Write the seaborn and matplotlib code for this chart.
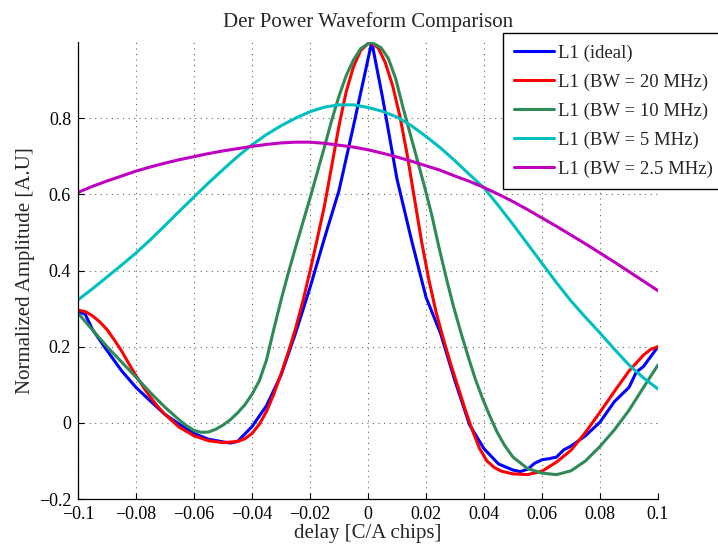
import matplotlib
matplotlib.use("Agg")
import matplotlib.pyplot as plt
import pandas as pd
import seaborn as sns
from matplotlib.ticker import FixedLocator, FixedFormatter

# ---- waveform data (delay in C/A chips, normalized amplitude) ----
delay_ideal = [-0.1, -0.0975, -0.095, -0.09, -0.085, -0.08, -0.075, -0.07, -0.065,
               -0.06, -0.055, -0.05, -0.0475, -0.045, -0.04, -0.035, -0.03, -0.025,
               -0.02, -0.015, -0.01, -0.005, 0.0013, 0.005, 0.01, 0.015, 0.02, 0.025,
               0.03, 0.035, 0.04, 0.045, 0.05, 0.0525, 0.055, 0.0575, 0.06, 0.0625,
               0.065, 0.0675, 0.07, 0.075, 0.08, 0.085, 0.09, 0.0925, 0.095, 0.1]
amp_ideal = [0.292, 0.285, 0.245, 0.190, 0.137, 0.093, 0.057, 0.022, -0.004,
             -0.028, -0.043, -0.050, -0.053, -0.049, -0.010, 0.045, 0.125, 0.235,
             0.355, 0.485, 0.610, 0.780, 1.0, 0.855, 0.640, 0.480, 0.330, 0.235,
             0.110, -0.005, -0.068, -0.108, -0.124, -0.128, -0.122, -0.106, -0.097, -0.094,
             -0.090, -0.071, -0.061, -0.034, 0.002, 0.056, 0.093, 0.133, 0.148, 0.200]

delay_bw20 = [-0.1, -0.0975, -0.095, -0.0925, -0.09, -0.0875, -0.085, -0.0825, -0.08,
              -0.0775, -0.075, -0.0725, -0.07, -0.065, -0.06, -0.055, -0.05, -0.045,
              -0.0425, -0.04, -0.0375, -0.035, -0.0325, -0.03, -0.0275, -0.025,
              -0.0225, -0.02, -0.0175, -0.015, -0.0125, -0.01, -0.0075, -0.005,
              -0.0025, 0.0006, 0.0035, 0.006, 0.0085, 0.011, 0.0135, 0.016, 0.0185,
              0.021, 0.0235, 0.026, 0.0285, 0.031, 0.0335, 0.036, 0.0385, 0.041,
              0.0435, 0.046, 0.05, 0.055, 0.06, 0.065, 0.07, 0.075, 0.08, 0.085,
              0.09, 0.095, 0.0975, 0.1]
amp_bw20 = [0.296, 0.292, 0.281, 0.265, 0.245, 0.218, 0.189, 0.156, 0.124,
            0.094, 0.067, 0.043, 0.022, -0.012, -0.034, -0.047, -0.052, -0.049,
            -0.042, -0.028, -0.004, 0.030, 0.075, 0.128, 0.185, 0.247,
            0.318, 0.398, 0.483, 0.570, 0.675, 0.780, 0.870, 0.935,
            0.978, 1.0, 0.985, 0.945, 0.885, 0.805, 0.705, 0.590, 0.475,
            0.375, 0.290, 0.220, 0.155, 0.095, 0.035, -0.020, -0.068, -0.100,
            -0.117, -0.127, -0.134, -0.136, -0.127, -0.103, -0.072, -0.025, 0.028, 0.083,
            0.136, 0.178, 0.193, 0.200]

delay_bw10 = [-0.1, -0.095, -0.09, -0.085, -0.08, -0.075, -0.07, -0.065, -0.0625,
              -0.06, -0.0575, -0.055, -0.0525, -0.05, -0.0475, -0.045, -0.0425, -0.04,
              -0.0375, -0.035, -0.0325, -0.03, -0.0275, -0.025, -0.0225, -0.02,
              -0.0175, -0.015, -0.0125, -0.01, -0.0075, -0.005, -0.0025, 0.001,
              0.0045, 0.007, 0.0095, 0.012, 0.0145, 0.017, 0.0195, 0.022, 0.0245,
              0.027, 0.0295, 0.032, 0.0345, 0.037, 0.0395, 0.042, 0.0445, 0.047,
              0.05, 0.055, 0.06, 0.065, 0.07, 0.075, 0.08, 0.085, 0.09, 0.095, 0.1]
amp_bw10 = [0.288, 0.244, 0.200, 0.160, 0.120, 0.079, 0.041, 0.007, -0.008,
            -0.020, -0.025, -0.024, -0.017, -0.006, 0.008, 0.026, 0.047, 0.075,
            0.110, 0.165, 0.245, 0.322, 0.393, 0.460, 0.525, 0.590,
            0.657, 0.725, 0.795, 0.858, 0.912, 0.953, 0.983, 1.0,
            0.985, 0.957, 0.905, 0.830, 0.760, 0.690, 0.620, 0.545, 0.460,
            0.380, 0.305, 0.238, 0.175, 0.115, 0.064, 0.018, -0.024, -0.058,
            -0.090, -0.120, -0.132, -0.136, -0.126, -0.100, -0.062, -0.018, 0.033, 0.093, 0.152]

delay_bw5 = [-0.1, -0.095, -0.09, -0.085, -0.08, -0.075, -0.07, -0.065, -0.06,
             -0.055, -0.05, -0.045, -0.04, -0.035, -0.03, -0.025, -0.02, -0.015,
             -0.01, -0.005, 0.0, 0.005, 0.01, 0.015, 0.02, 0.025, 0.03, 0.035,
             0.04, 0.045, 0.05, 0.055, 0.06, 0.065, 0.07, 0.075, 0.08, 0.085,
             0.09, 0.095, 0.1]
amp_bw5 = [0.323, 0.352, 0.383, 0.414, 0.446, 0.481, 0.518, 0.556, 0.593,
           0.630, 0.665, 0.699, 0.730, 0.757, 0.780, 0.800, 0.817, 0.829,
           0.835, 0.835, 0.828, 0.818, 0.803, 0.780, 0.752, 0.722, 0.688, 0.652,
           0.617, 0.570, 0.521, 0.470, 0.419, 0.368, 0.320, 0.277, 0.236, 0.193,
           0.152, 0.118, 0.089]

delay_bw25 = [-0.1, -0.095, -0.09, -0.085, -0.08, -0.075, -0.07, -0.065, -0.06,
              -0.055, -0.05, -0.045, -0.04, -0.035, -0.03, -0.025, -0.02, -0.015,
              -0.01, -0.005, 0.0, 0.005, 0.01, 0.015, 0.02, 0.025, 0.03, 0.035,
              0.04, 0.045, 0.05, 0.055, 0.06, 0.065, 0.07, 0.075, 0.08, 0.085,
              0.09, 0.095, 0.1]
amp_bw25 = [0.605, 0.621, 0.635, 0.648, 0.661, 0.672, 0.682, 0.691, 0.699,
            0.707, 0.714, 0.720, 0.726, 0.731, 0.735, 0.737, 0.737, 0.734,
            0.729, 0.724, 0.717, 0.708, 0.698, 0.687, 0.675, 0.663, 0.648, 0.634,
            0.618, 0.600, 0.581, 0.560, 0.538, 0.516, 0.493, 0.470, 0.446, 0.422,
            0.397, 0.372, 0.347]

series_names = ["L1 (ideal)", "L1 (BW = 20 MHz)", "L1 (BW = 10 MHz)",
                "L1 (BW = 5 MHz)", "L1 (BW = 2.5 MHz)"]
series_colors = ["#0000FF", "#FF0000", "#2E8B57", "#00BFBF", "#BF00BF"]

x_ticks = [-0.1, -0.08, -0.06, -0.04, -0.02, 0.0, 0.02, 0.04, 0.06, 0.08, 0.1]
x_tick_labels = ["\u22120.1", "\u22120.08", "\u22120.06", "\u22120.04", "\u22120.02", "0",
                 "0.02", "0.04", "0.06", "0.08", "0.1"]
y_ticks = [-0.2, 0.0, 0.2, 0.4, 0.6, 0.8]
y_tick_labels = ["\u22120.2", "0", "0.2", "0.4", "0.6", "0.8"]

# ---- long-form table for seaborn ----
frames = []
for name, xs, ys in zip(series_names,
                        [delay_ideal, delay_bw20, delay_bw10, delay_bw5, delay_bw25],
                        [amp_ideal, amp_bw20, amp_bw10, amp_bw5, amp_bw25]):
    frames.append(pd.DataFrame({"delay": xs, "amplitude": ys, "series": name}))
df = pd.concat(frames, ignore_index=True)

sns.set_style("ticks")
plt.rcParams["font.family"] = ["Liberation Serif", "DejaVu Serif"]
plt.rcParams["axes.unicode_minus"] = True

fig = plt.figure(figsize=(7.18, 5.44), dpi=100)
ax = fig.add_axes([78 / 718, 45 / 544, 580 / 718, 457 / 544])

sns.lineplot(data=df, x="delay", y="amplitude", hue="series", hue_order=series_names,
             palette=dict(zip(series_names, series_colors)), estimator=None,
             sort=False, linewidth=2.2, ax=ax)
for line in ax.get_lines():
    line.set_solid_joinstyle("round")
    line.set_solid_capstyle("round")

ax.set_xlim(-0.1, 0.1)
ax.set_ylim(-0.2, 1.0)
ax.xaxis.set_major_locator(FixedLocator(x_ticks))
ax.xaxis.set_major_formatter(FixedFormatter(x_tick_labels))
ax.yaxis.set_major_locator(FixedLocator(y_ticks))
ax.yaxis.set_major_formatter(FixedFormatter(y_tick_labels))

ax.grid(True, linestyle=(0, (1, 4)), color="#666666", linewidth=0.8)
ax.set_axisbelow(True)
for side in ("top", "right"):
    ax.spines[side].set_visible(False)
for side in ("left", "bottom"):
    ax.spines[side].set_color("black")
    ax.spines[side].set_linewidth(0.9)
ax.tick_params(direction="in", length=4, width=0.8, colors="black",
               labelsize=13, pad=5)

ax.set_xlabel("delay [C/A chips]", fontsize=15, labelpad=1)
ax.set_ylabel("Normalized Amplitude [A.U]", fontsize=15, labelpad=3)
ax.set_title("Der Power Waveform Comparison", fontsize=15, pad=11)

handles, labels = ax.get_legend_handles_labels()
leg = ax.legend(handles, labels, loc="upper left",
                bbox_to_anchor=(503 / 718, 1 - 33 / 544), bbox_transform=fig.transFigure,
                fontsize=13.5, frameon=True, fancybox=False, framealpha=1,
                edgecolor="black", handlelength=2.13, handletextpad=0.2,
                labelspacing=0.63, borderpad=0.6, borderaxespad=0)
leg.get_frame().set_linewidth(1.0)
for line in leg.get_lines():
    line.set_linewidth(2.2)

fig.savefig("out.png", dpi=100)
